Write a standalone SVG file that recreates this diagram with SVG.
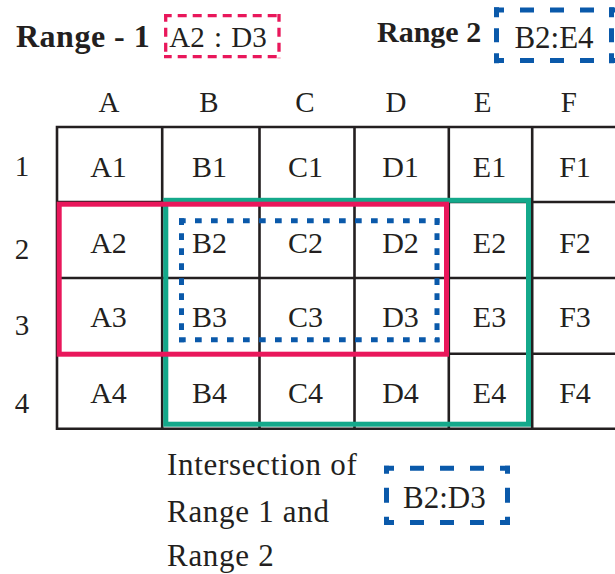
<svg xmlns="http://www.w3.org/2000/svg" width="615" height="574" viewBox="0 0 615 574">
  <style>
    text { font-family: "Liberation Serif", "Times New Roman", serif; fill: #231F20; }
    .bold { font-weight: bold; }
    .cell { font-size: 30px; text-anchor: middle; }
    .hdr { font-size: 29px; text-anchor: middle; }
    .note { font-size: 31px; letter-spacing: 0.7px; }
    .code { font-size: 31px; text-anchor: middle; }
    .grid { fill: none; stroke: #231F20; stroke-width: 2.6; stroke-linecap: square; }
    .red { fill: none; stroke: #E9175B; stroke-width: 5; }
    .green { fill: none; stroke: #14A98B; stroke-width: 5; }
    .pinkdash { fill: none; stroke: #E9175B; stroke-width: 3.3; stroke-dasharray: 9 6; stroke-dashoffset: 1.3; }
    .bluedash { fill: none; stroke: #0A59AA; stroke-width: 5; }
    .dotted { fill: none; stroke: #0A59AA; stroke-width: 5; }
  </style>

  <!-- Top legend: Range 1 -->
  <g id="range1-label">
    <text class="bold" x="16" y="46.7" font-size="32" letter-spacing="0.5">Range - 1</text>
    <path class="pinkdash" d="M164,15.7 H280.7 M164,56.7 H280.7 M165.7,14 V58.3 M279,14 V58.3"/>
    <text x="218" y="46.7" font-size="29" text-anchor="middle" word-spacing="2">A2 : D3</text>
  </g>

  <!-- Top legend: Range 2 -->
  <g id="range2-label">
    <text class="bold" x="377" y="41.7" font-size="30">Range 2</text>
    <path class="bluedash" stroke-dasharray="14 16" stroke-dashoffset="4" d="M494,10 H615 M494,60.5 H615"/>
    <path class="bluedash" stroke-dasharray="14 11" stroke-dashoffset="4" d="M496.5,7.3 V63.3 M611.5,7.3 V63.3"/>
    <text class="code" x="554" y="48.3">B2:E4</text>
  </g>

  <!-- Spreadsheet grid -->
  <g id="grid">
    <path class="grid" d="M57,127 H616 M57,202 H616 M57,278 H616 M57,353.7 H616 M57,428.7 H616
                          M57,127 V428.7 M162.2,127 V428.7 M259.5,127 V428.7 M354.5,127 V428.7 M448.8,127 V428.7 M532.2,127 V428.7"/>
  </g>

  <!-- Column headers -->
  <g id="column-headers">
    <text class="hdr" x="109" y="112.3">A</text>
    <text class="hdr" x="209" y="112.3">B</text>
    <text class="hdr" x="305" y="112.3">C</text>
    <text class="hdr" x="396" y="112.3">D</text>
    <text class="hdr" x="482.5" y="112.3">E</text>
    <text class="hdr" x="568.7" y="112.3">F</text>
  </g>

  <!-- Row headers -->
  <g id="row-headers">
    <text class="hdr" x="22" y="175.5">1</text>
    <text class="hdr" x="22" y="258.8">2</text>
    <text class="hdr" x="22" y="335">3</text>
    <text class="hdr" x="22" y="412.8">4</text>
  </g>

  <!-- Cell labels -->
  <g id="cells">
    <text class="cell" x="108.5" y="176.7">A1</text>
    <text class="cell" x="209.5" y="176.7">B1</text>
    <text class="cell" x="305.5" y="176.7">C1</text>
    <text class="cell" x="400.5" y="176.7">D1</text>
    <text class="cell" x="489.5" y="176.7">E1</text>
    <text class="cell" x="575" y="176.7">F1</text>

    <text class="cell" x="108.5" y="252.7">A2</text>
    <text class="cell" x="209.5" y="252.7">B2</text>
    <text class="cell" x="305.5" y="252.7">C2</text>
    <text class="cell" x="400.5" y="252.7">D2</text>
    <text class="cell" x="489.5" y="252.7">E2</text>
    <text class="cell" x="575" y="252.7">F2</text>

    <text class="cell" x="108.5" y="327.3">A3</text>
    <text class="cell" x="209.5" y="327.3">B3</text>
    <text class="cell" x="305.5" y="327.3">C3</text>
    <text class="cell" x="400.5" y="327.3">D3</text>
    <text class="cell" x="489.5" y="327.3">E3</text>
    <text class="cell" x="575" y="327.3">F3</text>

    <text class="cell" x="108.5" y="402.7">A4</text>
    <text class="cell" x="209.5" y="402.7">B4</text>
    <text class="cell" x="305.5" y="402.7">C4</text>
    <text class="cell" x="400.5" y="402.7">D4</text>
    <text class="cell" x="489.5" y="402.7">E4</text>
    <text class="cell" x="575" y="402.7">F4</text>
  </g>

  <!-- Range 2 (B2:E4) outline -->
  <g id="range2-rect">
    <rect class="green" x="165.8" y="200.3" width="362.7" height="223.9"/>
  </g>

  <!-- Range 1 (A2:D3) outline -->
  <g id="range1-rect">
    <rect class="red" x="59.2" y="204.2" width="387.3" height="150"/>
  </g>

  <!-- Intersection (B2:D3) outline -->
  <g id="intersection-rect">
    <path class="dotted" stroke-dasharray="6.7 9.3" d="M179,220.8 H439.5 M179,339.8 H439.5"/>
    <path class="dotted" stroke-dasharray="6.7 8.3" d="M181.5,218.3 V342.3 M437,218.3 V342.3"/>
  </g>

  <!-- Intersection note -->
  <g id="intersection-note">
    <text class="note" x="167" y="475">Intersection of</text>
    <text class="note" x="167" y="521.7">Range 1 and</text>
    <text class="note" x="167" y="566">Range 2</text>
    <path class="bluedash" stroke-dasharray="14 16" stroke-dashoffset="4" d="M384,468.3 H510 M384,522.5 H510"/>
    <path class="bluedash" stroke-dasharray="15 14" stroke-dashoffset="7" d="M386.5,465.8 V525 M507.5,465.8 V525"/>
    <text class="code" x="444.3" y="508.3">B2:D3</text>
  </g>
</svg>
